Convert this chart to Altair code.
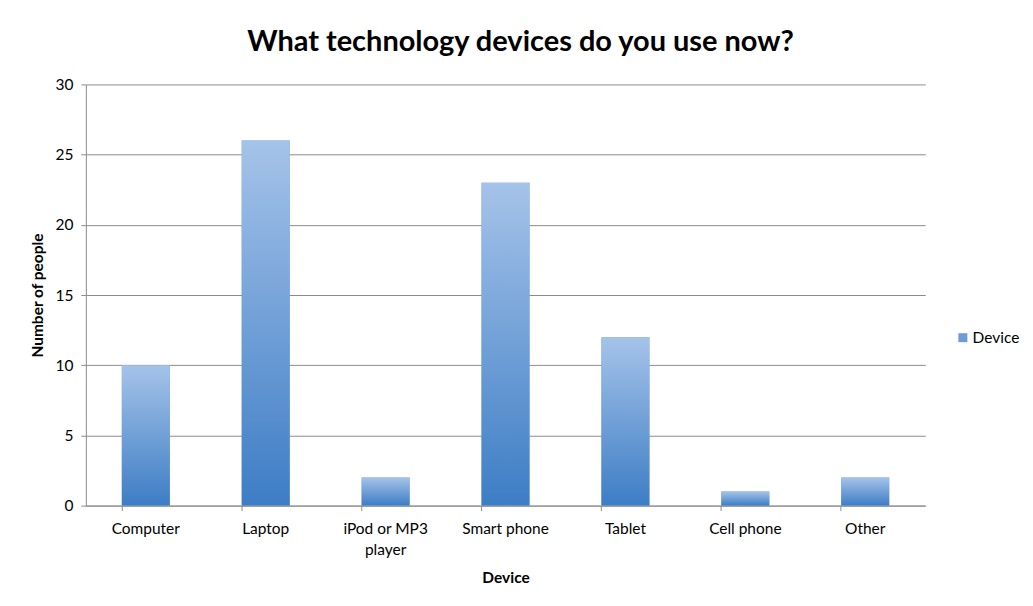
import altair as alt
import pandas as pd

devices = ["Computer", "Laptop", "iPod or MP3 player", "Smart phone", "Tablet", "Cell phone", "Other"]
counts = [10, 26, 2, 23, 12, 1, 2]
series_name = "Device"
title_text = "What technology devices do you use now?"

df = pd.DataFrame({"device": devices, "count": counts, "series": [series_name] * len(devices)})

FONT = "Lato"
grad = alt.Gradient(
    gradient="linear",
    stops=[alt.GradientStop(color="#a5c3e9", offset=0),
           alt.GradientStop(color="#3d7dc5", offset=1)],
    x1=0, x2=0, y1=0, y2=1,
)

x_enc = alt.X(
    "device:N", sort=devices,
    scale=alt.Scale(paddingInner=0.6, paddingOuter=0.3),
    axis=alt.Axis(
        title="Device", labelAngle=0, labelFontSize=15.5, labelColor="#000",
        labelExpr="datum.label == 'iPod or MP3 player' ? ['iPod or MP3', 'player'] : datum.label",
        labelPadding=11, labelLineHeight=21,
        bandPosition=0, tickSize=5, tickColor="#8c8c8c", domainColor="#8c8c8c",
        titleFontSize=15.5, titleFontWeight="bold", titlePadding=13, titleColor="#000",
        grid=False,
    ),
)
y_enc = alt.Y(
    "count:Q", scale=alt.Scale(domain=[0, 30]),
    axis=alt.Axis(
        title="Number of people", values=[0, 5, 10, 15, 20, 25, 30], tickSize=5,
        labelFontSize=15.5, labelColor="#000", labelPadding=8,
        tickColor="#8c8c8c", domainColor="#8c8c8c", gridColor="#8c8c8c",
        titleFontSize=15.5, titleFontWeight="bold", titlePadding=9, titleColor="#000",
    ),
)

base = alt.Chart(df)
legend_bars = base.mark_bar().encode(
    x=x_enc, y=y_enc,
    color=alt.Color("series:N", scale=alt.Scale(range=["#6d9bd6"]),
                    legend=alt.Legend(title=None, orient="none", legendX=871, legendY=246,
                                      symbolType="square", symbolSize=81, labelFontSize=15.5,
                                      labelColor="#000", labelOffset=2,
                                      symbolStrokeWidth=0)),
)
grad_bars = base.mark_bar(color=grad).encode(x=x_enc, y=y_enc)

chart = alt.layer(legend_bars, grad_bars).properties(
    width=841, height=422,
    title=alt.TitleParams(title_text, fontSize=29, fontWeight="bold", font=FONT, color="#000",
                          dx=15, offset=20),
    autosize=alt.AutoSizeParams(type="none"),
    padding={"left": 78, "top": 76, "right": 100, "bottom": 92},
).configure(font=FONT).configure_view(stroke=None).configure_axis(
    labelFont=FONT, titleFont=FONT
).configure_legend(labelFont=FONT)

chart.save("out.html", embed_options={"renderer": "svg", "actions": False})
